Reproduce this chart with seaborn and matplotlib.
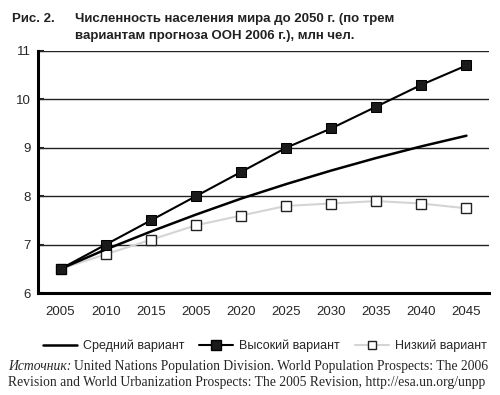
import numpy as np
import pandas as pd
import matplotlib
matplotlib.use("Agg")
import matplotlib.pyplot as plt
import seaborn as sns
from matplotlib.lines import Line2D

# data (the 4th label really says 2005 in the original)
years = ["2005", "2010", "2015", "2005", "2020", "2025", "2030", "2035", "2040", "2045"]
medium = [6.5, 6.9, 7.27, 7.62, 7.95, 8.25, 8.53, 8.79, 9.03, 9.25]
high = [6.5, 7.0, 7.5, 8.0, 8.5, 9.0, 9.4, 9.85, 10.3, 10.7]
low = [6.5, 6.8, 7.1, 7.4, 7.6, 7.8, 7.85, 7.9, 7.85, 7.75]

sns.set_style("white")
plt.rcParams['font.family'] = ['Liberation Sans', 'DejaVu Sans']

pos = np.arange(len(years))
df = pd.DataFrame({"pos": pos, "medium": medium, "high": high, "low": low})

fig = plt.figure(figsize=(5, 3.95), dpi=100)
ax = fig.add_axes([0.076, 0.258, 0.902, 0.613])

# horizontal grid lines
for v in [7, 8, 9, 10, 11]:
    ax.axhline(v, color="#222222", lw=1.0, zorder=0)

sns.lineplot(data=df, x="pos", y="low", ax=ax, color="#d4d4d4", lw=1.5,
             marker="s", markersize=6.5, markerfacecolor="white",
             markeredgecolor="#222222", markeredgewidth=1.0, zorder=2)
sns.lineplot(data=df, x="pos", y="medium", ax=ax, color="black", lw=1.8, zorder=3)
sns.lineplot(data=df, x="pos", y="high", ax=ax, color="black", lw=1.5,
             marker="s", markersize=7, markerfacecolor="#1a1a1a",
             markeredgecolor="black", zorder=4)

ax.set_xlim(-0.5, len(years) - 0.5)
ax.set_ylim(6, 11)
ax.set_xticks(pos)
ax.set_xticklabels(years, fontsize=9.5)
ax.set_xticks(np.arange(0.5, len(years), 1.0), minor=True)
ax.tick_params(axis="x", which="major", length=0, pad=9)
ax.tick_params(axis="x", which="minor", direction="in", length=5, width=1.5, color="black")
ax.set_yticks([6, 7, 8, 9, 10, 11])
ax.set_yticklabels(["6", "7", "8", "9", "10", "11"], fontsize=9.5)
ax.tick_params(axis="y", direction="in", length=4, width=1.5, pad=5, left=True)
ax.set_xlabel("")
ax.set_ylabel("")

for s in ["top", "right"]:
    ax.spines[s].set_visible(False)
for s in ["left", "bottom"]:
    ax.spines[s].set_linewidth(2.2)
    ax.spines[s].set_color("black")

# title
fig.text(0.024, 0.968, "Рис. 2.", fontsize=9.5, fontweight="bold", color="#222222", va="top")
fig.text(0.15, 0.968, "Численность населения мира до 2050 г. (по трем\nвариантам прогноза ООН 2006 г.), млн чел.",
         fontsize=9.5, fontweight="bold", color="#222222", va="top", linespacing=1.6)

# legend
handles = [
    Line2D([], [], color="black", lw=1.8),
    Line2D([], [], color="black", lw=1.5, marker="s", markersize=6.5, markerfacecolor="#1a1a1a"),
    Line2D([], [], color="#d4d4d4", lw=1.5, marker="s", markersize=6, markerfacecolor="white",
           markeredgecolor="#222222"),
]
fig.legend(handles, ["Средний вариант", "Высокий вариант", "Низкий вариант"],
           loc="center", bbox_to_anchor=(0.53, 0.124), ncol=3, frameon=False,
           fontsize=9, handlelength=2.7, columnspacing=1.2, handletextpad=0.5)

# source note
fig.canvas.draw()
r = fig.canvas.get_renderer()
t1 = fig.text(0.016, 0.073, "Источник:", family="Liberation Serif", style="italic", fontsize=9.8, va="center")
ext = t1.get_window_extent(r)
x2 = ext.x1 / fig.bbox.width + 0.006
fig.text(x2, 0.073, "United Nations Population Division. World Population Prospects: The 2006",
         family="Liberation Serif", fontsize=9.8, va="center")
fig.text(0.016, 0.032, "Revision and World Urbanization Prospects: The 2005 Revision, http://esa.un.org/unpp",
         family="Liberation Serif", fontsize=9.8, va="center")

fig.savefig("out.png", dpi=100)
